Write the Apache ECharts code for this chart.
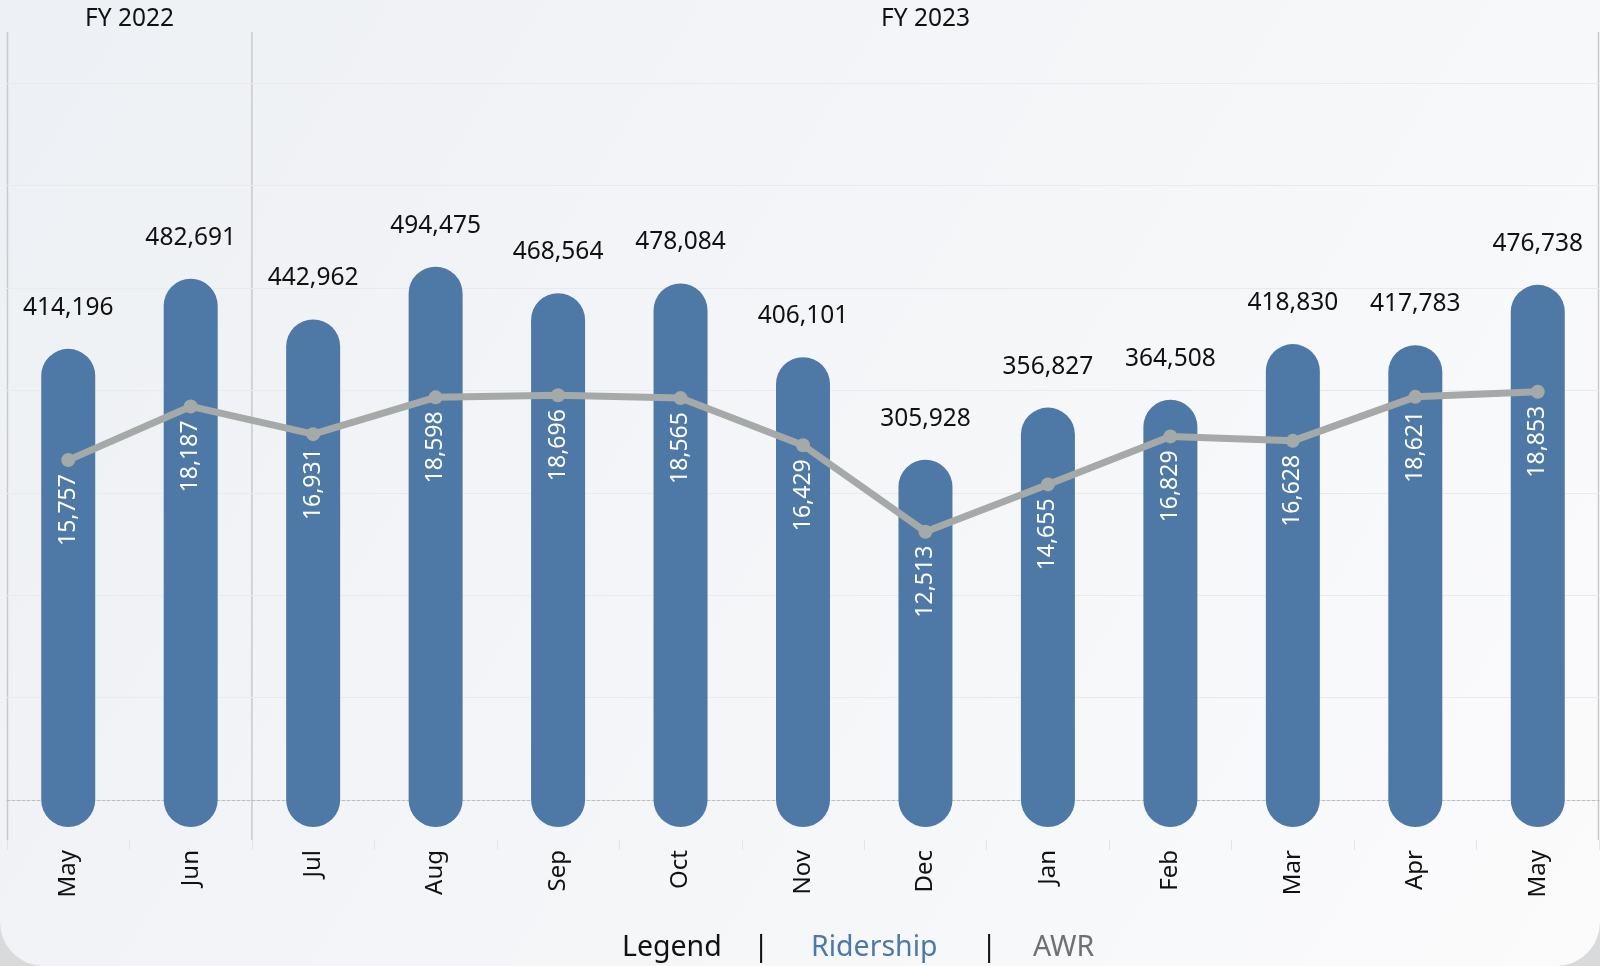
<!DOCTYPE html>
<html>
<head>
<meta charset="utf-8">
<script src="https://cdn.jsdelivr.net/npm/echarts@6/dist/echarts.min.js"></script>
<style>
html, body { margin: 0; padding: 0; background: #d9dadc; }
#main { width: 1600px; height: 966px; border-radius: 0 0 44px 44px; overflow: hidden; }
</style>
</head>
<body>
<div id="main"></div>
<script>
// months on the x axis, FY2022 = first two, FY2023 = the rest
var months = ['May', 'Jun', 'Jul', 'Aug', 'Sep', 'Oct', 'Nov', 'Dec', 'Jan', 'Feb', 'Mar', 'Apr', 'May'];
var ridership = [414196, 482691, 442962, 494475, 468564, 478084, 406101, 305928, 356827, 364508, 418830, 417783, 476738];
var awr = [15757, 18187, 16931, 18598, 18696, 18565, 16429, 12513, 14655, 16829, 16628, 18621, 18853];
var fiscalYears = ['FY 2022', 'FY 2023'];
var legendItems = ['Legend', '|', 'Ridership', '|', 'AWR'];

var FONT = '"Noto Sans", "Open Sans", sans-serif';
var BLUE = '#4e79a7';
var GREY = '#a5aaa8';

function fmt(v) {
  return Number(v).toLocaleString('en-US');
}

function renderBar(params, api) {
  var i = api.value(0), v = api.value(1);
  var top = api.coord([i, v]);
  var base = api.coord([i, 0]);
  return {
    type: 'group',
    children: [
      {
        type: 'line',
        shape: { x1: top[0], y1: top[1], x2: base[0], y2: base[1] },
        style: { stroke: BLUE, lineWidth: 54, lineCap: 'round' }
      },
      {
        type: 'text',
        x: top[0],
        y: top[1] - 68,
        style: {
          text: fmt(v), fill: '#111', fontSize: 24.5, fontFamily: FONT,
          align: 'center', verticalAlign: 'middle'
        }
      }
    ]
  };
}

var barData = ridership.map(function (v, i) { return [i, v]; });

var gridLeft = 7, gridRight = 1, gridTop = 32, gridBottom = 166;
var catW = (1600 - gridLeft - gridRight) / months.length;
var divX = gridLeft + catW * 2;

function vline(x) {
  return {
    type: 'line', silent: true,
    shape: { x1: x, y1: 32, x2: x, y2: 840 },
    style: { stroke: '#c9c9cb', lineWidth: 1.5 }
  };
}

var legendX = [622, 761, 811, 989, 1033];
var legendColor = ['#111', '#111', BLUE, '#111', '#707070'];

var graphics = [
  vline(gridLeft + 0.5), vline(divX), vline(1598.5),
  {
    type: 'text', x: (gridLeft + divX) / 2, y: 19,
    style: { text: fiscalYears[0], fill: '#111', fontSize: 24.5, fontFamily: FONT, align: 'center', verticalAlign: 'middle' }
  },
  {
    type: 'text', x: (divX + 1600 - gridRight) / 2, y: 19,
    style: { text: fiscalYears[1], fill: '#111', fontSize: 24.5, fontFamily: FONT, align: 'center', verticalAlign: 'middle' }
  }
];
legendItems.forEach(function (t, k) {
  graphics.push({
    type: 'text', x: legendX[k], y: 948,
    style: {
      text: t, fill: legendColor[k], fontSize: 28.5, fontFamily: FONT,
      align: t === '|' ? 'center' : 'left', verticalAlign: 'middle'
    }
  });
});

var option = {
  backgroundColor: {
    type: 'linear', x: 0, y: 0, x2: 1, y2: 1,
    colorStops: [{ offset: 0, color: '#edf0f4' }, { offset: 1, color: '#fbfbfc' }]
  },
  animation: false,
  grid: { left: gridLeft, right: gridRight, top: gridTop, bottom: gridBottom },
  xAxis: [
    {
      type: 'category', data: months,
      axisLine: { show: true, lineStyle: { color: '#bdbdbd', type: [3, 2], width: 1 } },
      axisTick: { show: false },
      axisLabel: { show: false }
    },
    {
      type: 'category', data: months, position: 'bottom', offset: 40,
      axisLine: { show: false },
      axisTick: { show: true, length: 10, lineStyle: { color: '#e3e4e6' } },
      axisLabel: { rotate: 90, margin: 10, color: '#111', fontSize: 24, fontFamily: FONT }
    }
  ],
  yAxis: [
    {
      type: 'value', min: 0, max: 750000, interval: 100000, show: true,
      axisLine: { show: false }, axisTick: { show: false }, axisLabel: { show: false },
      splitLine: { show: true, showMinLine: false, showMaxLine: false, lineStyle: { color: '#e8eaed', width: 1 } }
    },
    {
      type: 'value', min: 362, max: 35145, show: false,
      splitLine: { show: false }
    }
  ],
  graphic: graphics,
  series: [
    {
      name: 'Ridership', type: 'custom', xAxisIndex: 0, yAxisIndex: 0,
      data: barData, renderItem: renderBar, encode: { x: 0, y: 1 }, z: 2
    },
    {
      name: 'AWR', type: 'line', xAxisIndex: 0, yAxisIndex: 1,
      data: awr, z: 3,
      symbol: 'circle', symbolSize: 14,
      lineStyle: { color: GREY, width: 7 },
      itemStyle: { color: GREY },
      label: {
        show: true, position: 'bottom', distance: 7, rotate: 90,
        align: 'right', verticalAlign: 'middle',
        color: '#fff', fontSize: 23, fontFamily: FONT,
        formatter: function (p) { return fmt(p.value); }
      }
    }
  ]
};

var chart = echarts.init(document.getElementById('main'));
chart.setOption(option);
</script>
</body>
</html>
